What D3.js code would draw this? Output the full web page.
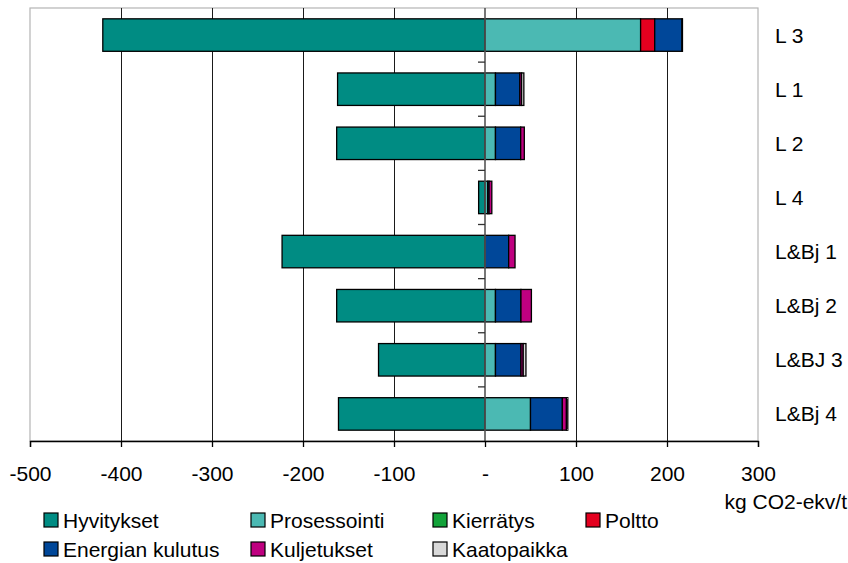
<!DOCTYPE html>
<html>
<head>
<meta charset="utf-8">
<script src="https://cdn.jsdelivr.net/npm/d3@7"></script>
<style>
  html, body { margin: 0; padding: 0; background: #fff; }
  svg { display: block; font-family: "Liberation Sans", Arial, sans-serif; }
</style>
</head>
<body>
<svg id="chart" width="848" height="563"></svg>
<script>
// Categories (top to bottom) and stacked series, kg CO2-ekv/t
const categories = ["L 3", "L 1", "L 2", "L 4", "L&Bj 1", "L&Bj 2", "L&BJ 3", "L&Bj 4"];
const seriesNames = ["Hyvitykset", "Prosessointi", "Kierrätys", "Poltto", "Energian kulutus", "Kuljetukset", "Kaatopaikka"];
const seriesColors = ["#008C83", "#4BB9B3", "#13A33A", "#E4001F", "#004799", "#BF0080", "#D9D9D9"];

const hyvitykset      = [-420, -162, -163, -7, -223, -163, -117, -161];
const prosessointi    = [171, 11.5, 11.5, 3, 0, 11.5, 11.5, 50];
const kierratys       = [0, 0, 0, 0, 0, 0, 0, 0];
const poltto          = [15.5, 0, 0, 0, 0, 0, 0, 0];
const energianKulutus = [30, 26.7, 27.7, 1.5, 26, 28, 28, 35];
const kuljetukset     = [0.5, 2, 4, 3, 7, 11.5, 2.5, 4.5];
const kaatopaikka     = [0, 2.5, 0, 0, 0, 0, 3, 1.5];

const xTicks = [-500, -400, -300, -200, -100, 0, 100, 200, 300];
const axisTitle = "kg CO2-ekv/t";

const seriesValues = [hyvitykset, prosessointi, kierratys, poltto, energianKulutus, kuljetukset, kaatopaikka];

const svg = d3.select("#chart");
const FONT = 21;

const x = d3.scaleLinear().domain([-500, 300]).range([30, 758]);
const y = d3.scaleBand().domain(categories).range([8, 441]).paddingInner(0.4).paddingOuter(0.2);

// Plot frame
svg.append("rect")
  .attr("x", x(-500)).attr("y", 8)
  .attr("width", x(300) - x(-500)).attr("height", 441 - 8)
  .attr("fill", "none").attr("stroke", "#b4b4b4").attr("stroke-width", 1.2);

// Vertical gridlines
svg.append("g").selectAll("line")
  .data(xTicks.filter(d => d !== -500 && d !== 300 && d !== 0))
  .join("line")
  .attr("x1", d => x(d)).attr("x2", d => x(d))
  .attr("y1", 8).attr("y2", 441)
  .attr("shape-rendering", "crispEdges")
  .attr("stroke", "#1a1a1a").attr("stroke-width", 1);

// Stacked segments: negatives grow left from zero, positives right
const segs = [];
categories.forEach((c, i) => {
  let pos = 0, neg = 0;
  seriesValues.forEach((vals, s) => {
    const v = vals[i];
    if (!v) return;
    if (v < 0) { segs.push({ c, s, x0: neg + v, x1: neg }); neg += v; }
    else { segs.push({ c, s, x0: pos, x1: pos + v }); pos += v; }
  });
});

svg.append("g").selectAll("rect")
  .data(segs)
  .join("rect")
  .attr("x", d => x(d.x0))
  .attr("y", d => y(d.c))
  .attr("width", d => x(d.x1) - x(d.x0))
  .attr("height", y.bandwidth())
  .attr("fill", d => seriesColors[d.s])
  .attr("stroke", "#000").attr("stroke-width", 1.3);

// Zero axis with category separator ticks
const zeroG = svg.append("g");
zeroG.append("line")
  .attr("x1", x(0)).attr("x2", x(0)).attr("y1", 8).attr("y2", 441)
  .attr("stroke", "#555").attr("stroke-width", 1.6);
zeroG.selectAll("line.sep")
  .data(categories.slice(1))
  .join("line").attr("class", "sep")
  .attr("x1", x(0) - 7).attr("x2", x(0))
  .attr("y1", d => y(d) - y.step() * y.paddingInner() / 2)
  .attr("y2", d => y(d) - y.step() * y.paddingInner() / 2)
  .attr("stroke", "#333").attr("stroke-width", 1.3);

// Category labels on the right
svg.append("g").selectAll("text")
  .data(categories)
  .join("text")
  .attr("x", 775)
  .attr("y", d => y(d) + y.bandwidth() / 2)
  .attr("dy", "0.36em")
  .attr("font-size", FONT)
  .attr("fill", "#000")
  .text(d => d);

// Bottom axis
const xAxis = d3.axisBottom(x)
  .tickValues(xTicks)
  .tickSize(6)
  .tickPadding(19)
  .tickFormat(d => d === 0 ? "-" : d);
const gx = svg.append("g").attr("transform", "translate(0,441)").call(xAxis);
gx.select(".domain").attr("stroke", "#000").attr("stroke-width", 1.3);
gx.selectAll(".tick line").attr("stroke", "#000").attr("stroke-width", 1.3);
gx.selectAll(".tick text")
  .attr("font-size", FONT)
  .attr("font-family", "\"Liberation Sans\", Arial, sans-serif")
  .attr("fill", "#000");

// Axis title
svg.append("text")
  .attr("x", 847).attr("y", 509)
  .attr("text-anchor", "end")
  .attr("font-size", FONT)
  .text(axisTitle);

// Legend: two rows, four columns
const legendCols = [44, 251, 433, 586];
const legendRows = [513, 542];
const legend = svg.append("g").selectAll("g")
  .data(seriesNames)
  .join("g")
  .attr("transform", (d, i) => `translate(${legendCols[i % 4]},${legendRows[Math.floor(i / 4)]})`);
legend.append("rect")
  .attr("width", 14).attr("height", 14)
  .attr("fill", (d, i) => seriesColors[i])
  .attr("stroke", "#000").attr("stroke-width", 1.2);
legend.append("text")
  .attr("x", 19).attr("y", 7)
  .attr("dy", "0.36em")
  .attr("font-size", FONT)
  .text(d => d);
</script>
</body>
</html>
